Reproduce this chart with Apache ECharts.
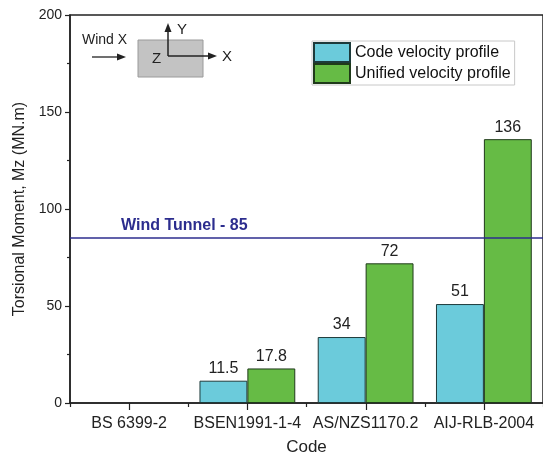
<!DOCTYPE html>
<html>
<head>
<meta charset="utf-8">
<script src="https://cdn.jsdelivr.net/npm/echarts@6/dist/echarts.min.js"></script>
<style>
  html, body { margin: 0; padding: 0; background: #fff; }
  #chart { width: 543px; height: 461px; }
</style>
</head>
<body>
<div id="chart"></div>
<script>
// Torsional moment by design code
const categories = ['BS 6399-2', 'BSEN1991-1-4', 'AS/NZS1170.2', 'AIJ-RLB-2004'];
const codeProfile = [null, 11.5, 34, 51];
const unifiedProfile = [null, 17.8, 72, 136];
const windTunnel = 85;
const yMin = 0, yMax = 200, yStep = 50;

const FONT = 'Liberation Sans, Arial, sans-serif';
const INK = '#222';

const chart = echarts.init(document.getElementById('chart'), null, { renderer: 'canvas' });

// small arrow helper for the orientation sketch
function arrowHead(tip, dir) {
  const [x, y] = tip;
  if (dir === 'up') return [[x, y], [x - 3.5, y + 9], [x + 3.5, y + 9]];
  return [[x, y], [x - 9, y - 3.5], [x - 9, y + 3.5]];
}

const sketch = [
  // wind direction sketch
  { type: 'text', left: 82, top: 33, style: { text: 'Wind X', font: '14px ' + FONT, fill: INK } },
  { type: 'line', shape: { x1: 92, y1: 57, x2: 119, y2: 57 }, style: { stroke: INK, lineWidth: 1.3 } },
  { type: 'polygon', shape: { points: arrowHead([126, 57], 'right') }, style: { fill: INK } },
  { type: 'rect', shape: { x: 138, y: 40, width: 65, height: 37 }, style: { fill: '#c3c3c3', stroke: '#9a9a9a', lineWidth: 1 } },
  { type: 'line', shape: { x1: 168, y1: 30, x2: 168, y2: 56 }, style: { stroke: INK, lineWidth: 1.5 } },
  { type: 'polygon', shape: { points: arrowHead([168, 23], 'up') }, style: { fill: INK } },
  { type: 'line', shape: { x1: 168, y1: 56, x2: 210, y2: 56 }, style: { stroke: INK, lineWidth: 1.5 } },
  { type: 'polygon', shape: { points: arrowHead([217, 56], 'right') }, style: { fill: INK } },
  { type: 'text', left: 177, top: 22, style: { text: 'Y', font: '15px ' + FONT, fill: INK } },
  { type: 'text', left: 222, top: 49, style: { text: 'X', font: '15px ' + FONT, fill: INK } },
  { type: 'text', left: 152, top: 51, style: { text: 'Z', font: '15px ' + FONT, fill: INK } }
];

chart.setOption({
  animation: false,
  backgroundColor: '#fff',
  textStyle: { fontFamily: FONT },
  grid: {
    left: 70, top: 15, right: -3, bottom: 58,
    show: true, borderColor: INK, borderWidth: 1.5, backgroundColor: 'transparent'
  },
  legend: {
    orient: 'vertical',
    left: 312, top: 41,
    itemWidth: 36, itemHeight: 19, itemGap: 0,
    padding: [1, 4, 1, 1],
    borderColor: '#c8c8c8', borderWidth: 1,
    icon: 'rect',
    textStyle: { fontFamily: FONT, fontSize: 16, color: '#111' },
    data: ['Code velocity profile', 'Unified velocity profile']
  },
  xAxis: {
    // short ticks on category boundaries; longer ones under labels are added below
    type: 'category',
    data: categories,
    name: 'Code',
    nameLocation: 'middle',
    nameGap: 36,
    nameTextStyle: { fontFamily: FONT, fontSize: 17, color: INK },
    axisLine: { show: true, onZero: false, lineStyle: { color: INK, width: 1.5 } },
    axisTick: { show: true, interval: 0, length: 4, lineStyle: { color: INK, width: 1.2 } },
    axisLabel: { interval: 0, margin: 13, fontFamily: FONT, fontSize: 16, color: INK },
    splitLine: { show: false }
  },
  yAxis: {
    type: 'value',
    min: yMin, max: yMax, interval: yStep,
    name: 'Torsional Moment, Mz (MN.m)',
    nameLocation: 'middle',
    nameGap: 42,
    nameTextStyle: { fontFamily: FONT, fontSize: 16, color: INK },
    axisLine: { show: true, onZero: false, lineStyle: { color: INK, width: 1.5 } },
    axisTick: { show: true, length: 5, lineStyle: { color: INK, width: 1.2 } },
    minorTick: { show: true, splitNumber: 2, length: 3, lineStyle: { color: INK, width: 1.2 } },
    axisLabel: { margin: 8, fontFamily: FONT, fontSize: 14, color: INK },
    splitLine: { show: false }
  },
  series: [{
    name: 'Code velocity profile',
    type: 'bar',
    data: codeProfile,
    barGap: '0%',
    barCategoryGap: '19%',
    itemStyle: { color: '#6BCBDB', borderColor: '#1d3a3a', borderWidth: 1 },
    label: { show: true, position: 'top', distance: 4, fontFamily: FONT, fontSize: 16, color: INK },
    markLine: {
      silent: true,
      symbol: 'none',
      lineStyle: { color: '#2c2d8e', width: 1.5, type: 'solid' },
      label: {
        position: 'insideStartTop',
        formatter: 'Wind Tunnel - ' + windTunnel,
        fontFamily: FONT, fontSize: 16, fontWeight: 'bold', color: '#2c2d8e',
        padding: [0, 0, 0, 46], distance: 5
      },
      data: [{ yAxis: windTunnel }]
    }
  }, {
    name: 'Unified velocity profile',
    type: 'bar',
    data: unifiedProfile,
    barGap: '0%',
    barCategoryGap: '19%',
    itemStyle: { color: '#66BB45', borderColor: '#1f3a1a', borderWidth: 1 },
    label: { show: true, position: 'top', distance: 4, fontFamily: FONT, fontSize: 16, color: INK }
  }],
  graphic: sketch
});

// longer tick under each category label, placed through the axis scales
const baseY = chart.convertToPixel({ yAxisIndex: 0 }, yMin);
const centreTicks = categories.map((c) => {
  const x = Math.round(chart.convertToPixel({ xAxisIndex: 0 }, c)) + 0.5;
  return {
    type: 'line', silent: true,
    shape: { x1: x, y1: baseY, x2: x, y2: baseY + 7 },
    style: { stroke: INK, lineWidth: 1.2 }
  };
});
chart.setOption({ graphic: sketch.concat(centreTicks) });
</script>
</body>
</html>
